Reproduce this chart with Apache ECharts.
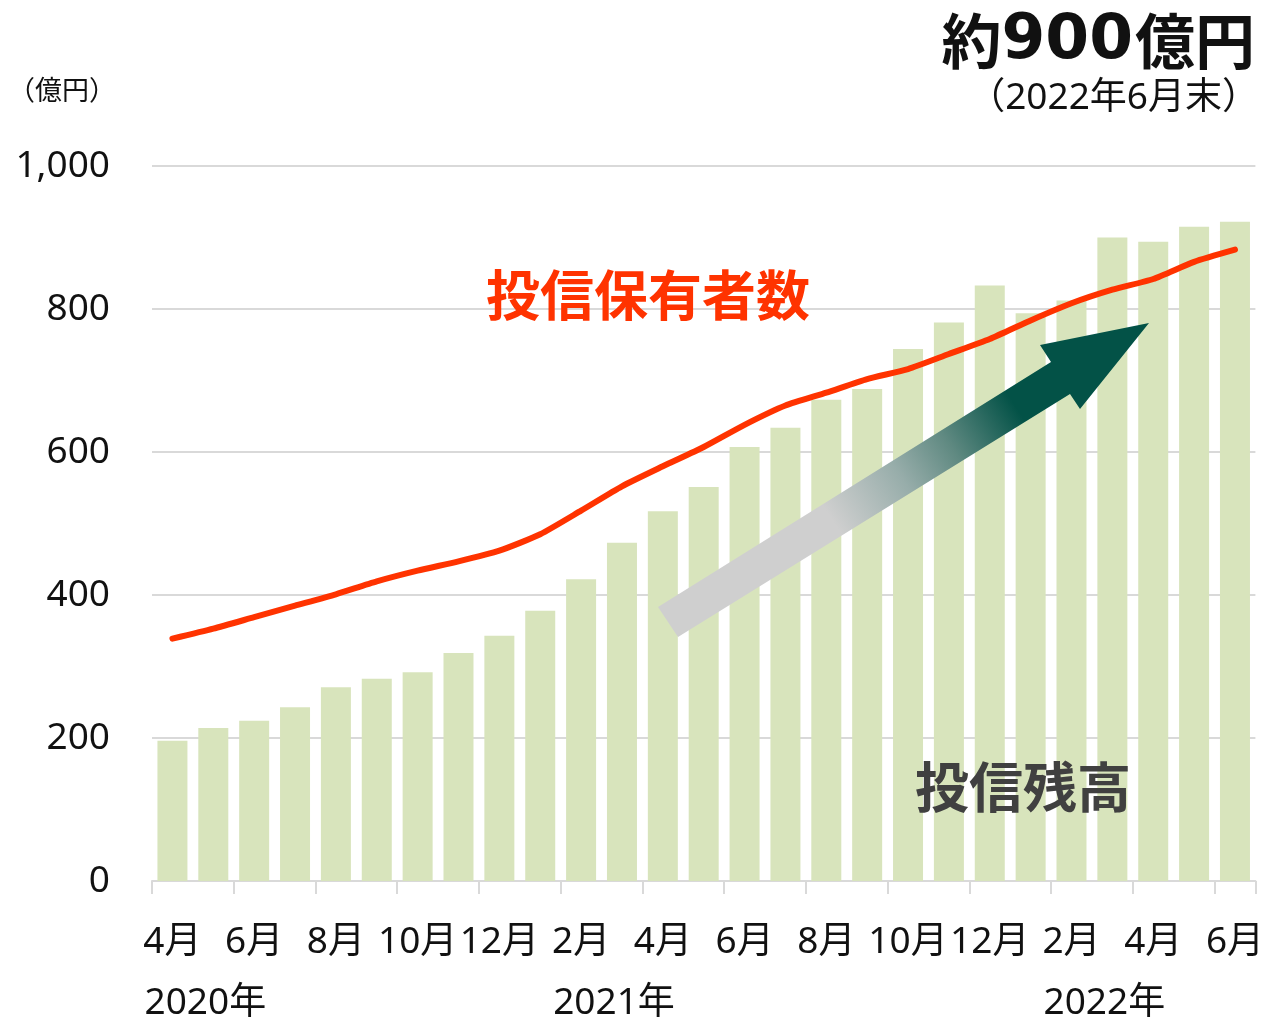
<!DOCTYPE html>
<html>
<head>
<meta charset="utf-8">
<style>
html,body{margin:0;padding:0;background:#fff;}
#chart{width:1267px;height:1022px;}
</style>
<script src="https://cdn.jsdelivr.net/npm/echarts@6/dist/echarts.min.js"></script>
</head>
<body>
<div id="chart"></div>
<script>
// Categories: April 2020 – June 2022 (monthly)
const months = ['4月','5月','6月','7月','8月','9月','10月','11月','12月',
  '1月','2月','3月','4月','5月','6月','7月','8月','9月','10月','11月','12月',
  '1月','2月','3月','4月','5月','6月'];
// Year labels (second row), placed under the matching month
const yearLabels = ['', '2020年', '', '', '', '', '', '', '', '', '', '2021年', '', '', '', '', '', '', '', '', '', '', '', '2022年', '', '', ''];
// 投信残高 (億円)
const balance = [196, 214, 224, 243, 271, 283, 292, 319, 343, 378, 422, 473,
  517, 551, 607, 634, 673, 688, 744, 781, 833, 794, 812, 900, 894, 915, 922];
// 投信保有者数 (index drawn on the same 0–1000 scale)
const holders = [339, 353, 369, 385, 401, 419, 434, 447, 462, 485, 518, 552,
  580, 607, 638, 665, 683, 702, 716, 737, 758, 784, 808, 827, 842, 866, 883];
const yTicks = { min: 0, max: 1000, interval: 200 };

const chart = echarts.init(document.getElementById('chart'), null, { renderer: 'canvas' });
const grey = '#d9d9d9';
const option = {
  backgroundColor: '#ffffff',
  animation: false,
  grid: { left: 152, right: 9, top: 166, bottom: 140 },
  xAxis: [{
    type: 'category',
    data: months,
    boundaryGap: true,
    axisLine: { show: true, lineStyle: { color: grey, width: 2 } },
    axisTick: { show: true, interval: 1, length: 13, lineStyle: { color: grey, width: 2 } },
    axisLabel: { interval: 1, margin: 43, fontSize: 37, color: '#111',
      fontFamily: '"Noto Sans", "Noto Sans CJK JP", sans-serif' }
  }, {
    type: 'category',
    data: yearLabels,
    position: 'bottom',
    boundaryGap: true,
    axisLine: { show: false },
    axisTick: { show: false },
    axisLabel: { interval: 0, margin: 104, fontSize: 37, color: '#111',
      padding: [0, 16, 0, 0],
      fontFamily: '"Noto Sans", "Noto Sans CJK JP", sans-serif' }
  }],
  yAxis: [{
    type: 'value',
    min: yTicks.min, max: yTicks.max, interval: yTicks.interval,
    axisLine: { show: false },
    axisTick: { show: false },
    axisLabel: { margin: 42, fontSize: 37, color: '#111',
      fontFamily: '"Noto Sans", sans-serif',
      formatter: v => v.toLocaleString('en-US') },
    splitLine: { show: true, lineStyle: { color: grey, width: 2 } }
  }, {
    type: 'value',
    min: yTicks.min, max: yTicks.max, interval: yTicks.interval,
    show: false,
    splitLine: { show: false }
  }],
  series: [{
    name: '投信残高',
    type: 'bar',
    data: balance,
    barWidth: 30,
    itemStyle: { color: '#d8e4bc' },
    z: 1
  }, {
    name: '投信保有者数',
    type: 'line',
    yAxisIndex: 1,
    data: holders,
    smooth: 0.2,
    symbol: 'none',
    lineStyle: { color: '#ff3300', width: 6, cap: 'round', join: 'round' },
    z: 5
  }],
  graphic: [
    {
      type: 'polygon',
      z: 3,
      shape: { points: [[658,607],[1051,362],[1040,345],[1149,323],[1080,409],[1070,394],[678,637]] },
      style: {
        fill: new echarts.graphic.LinearGradient(0, 1, 1, 0, [
          { offset: 0, color: '#cfcfcf' },
          { offset: 0.36, color: '#cfcfcf' },
          { offset: 0.5, color: '#97adaa' },
          { offset: 0.6, color: '#5f8981' },
          { offset: 0.73, color: '#035247' },
          { offset: 1, color: '#035247' }
        ])
      }
    },
    {
      type: 'text', left: 8, top: 76, z: 10,
      style: { text: '（億円）', fontSize: 27, fill: '#111',
        fontFamily: '"Noto Sans CJK JP", sans-serif' }
    },
    {
      type: 'text', right: 12, top: 10, z: 10,
      style: {
        text: '{a|約}{b|900}{a|億円}',
        rich: {
          a: { fontSize: 60, fontWeight: 'bold', fill: '#111', fontFamily: '"Noto Sans CJK JP", sans-serif' },
          b: { fontSize: 63, fontWeight: 'bold', fill: '#111', fontFamily: '"DejaVu Sans", sans-serif', padding: [0, 2, 0, 0] }
        }
      }
    },
    {
      type: 'text', right: 8, top: 80, z: 10,
      style: { text: '（2022年6月末）', fontSize: 37, fill: '#111',
        fontFamily: '"Noto Sans", "Noto Sans CJK JP", sans-serif' }
    },
    {
      type: 'text', left: 486, top: 268, z: 10,
      style: { text: '投信保有者数', fontSize: 54, fontWeight: 'bold', fill: '#ff3300',
        fontFamily: '"Noto Sans CJK JP", sans-serif' }
    },
    {
      type: 'text', left: 915, top: 760, z: 10,
      style: { text: '投信残高', fontSize: 54, fontWeight: 'bold', fill: '#404040',
        fontFamily: '"Noto Sans CJK JP", sans-serif' }
    }
  ]
};
chart.setOption(option);
</script>
</body>
</html>
